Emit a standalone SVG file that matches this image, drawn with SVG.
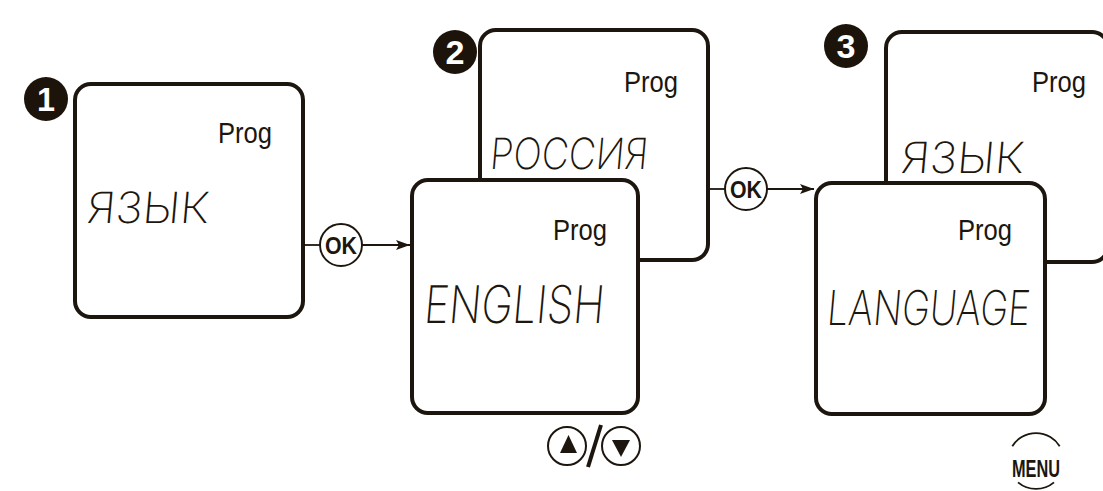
<svg xmlns="http://www.w3.org/2000/svg" width="1103" height="491" viewBox="0 0 1103 491">
<style>
.box{fill:#ffffff;stroke:#1c160e;stroke-width:4}
.prog{font-family:"Liberation Sans",Arial,sans-serif;font-size:29px;fill:#1c160e}
.seg{font-family:Inter,"DejaVu Sans",sans-serif;font-weight:200;fill:#1c160e}
.num{fill:#1c130a}
.numt{font-family:"Liberation Sans",Arial,sans-serif;font-weight:bold;font-size:34px;fill:#ffffff;text-anchor:middle}
.btn{fill:#ffffff;stroke:#1c160e;stroke-width:2}
.btnt{font-family:"Liberation Sans",Arial,sans-serif;font-weight:bold;font-size:24px;fill:#1c160e;text-anchor:middle}
.conn{stroke:#1c160e;stroke-width:1.8;fill:none}
</style>
<defs>
<marker id="arr" viewBox="0 0 14 10" refX="14" refY="5" markerWidth="14" markerHeight="10" markerUnits="userSpaceOnUse" orient="auto">
<path d="M0,0 L14,5 L0,10 L3,5 Z" fill="#1c160e"/>
</marker>
</defs>
<rect width="1103" height="491" fill="#ffffff"/>

<g id="step1">
<circle class="num" cx="46" cy="99" r="22"/>
<text class="numt" x="46" y="111" textLength="18" lengthAdjust="spacingAndGlyphs">1</text>
<rect class="box" x="75" y="84" width="228" height="233" rx="16"/>
<text class="prog" x="218" y="143" textLength="54" lengthAdjust="spacingAndGlyphs">Prog</text>
<text class="seg" font-size="43" transform="translate(86,223) skewX(-5)" textLength="122" lengthAdjust="spacingAndGlyphs">ЯЗЫК</text>
</g>

<g id="step2">
<circle class="num" cx="455" cy="52" r="22"/>
<text class="numt" x="455" y="64" textLength="19" lengthAdjust="spacingAndGlyphs">2</text>
<rect class="box" x="480" y="30" width="228" height="230" rx="16"/>
<text class="prog" x="624" y="92" textLength="54" lengthAdjust="spacingAndGlyphs">Prog</text>
<text class="seg" font-size="43" transform="translate(489,169) skewX(-5)" textLength="158" lengthAdjust="spacingAndGlyphs">РОССИЯ</text>
<rect class="box" x="412" y="180" width="226" height="233" rx="16"/>
<text class="prog" x="553" y="240" textLength="54" lengthAdjust="spacingAndGlyphs">Prog</text>
<text class="seg" font-size="52" transform="translate(423,323) skewX(-5)" textLength="180" lengthAdjust="spacingAndGlyphs">ENGLISH</text>
</g>

<g id="step3">
<circle class="num" cx="846" cy="46" r="22"/>
<text class="numt" x="846" y="58" textLength="19" lengthAdjust="spacingAndGlyphs">3</text>
<rect class="box" x="886" y="32" width="222" height="230" rx="16"/>
<text class="prog" x="1032" y="92" textLength="54" lengthAdjust="spacingAndGlyphs">Prog</text>
<text class="seg" font-size="43" transform="translate(900,173) skewX(-5)" textLength="123" lengthAdjust="spacingAndGlyphs">ЯЗЫК</text>
<rect class="box" x="816" y="183" width="229" height="231" rx="16"/>
<text class="prog" x="958" y="240" textLength="54" lengthAdjust="spacingAndGlyphs">Prog</text>
<text class="seg" font-size="48" transform="translate(826,325) skewX(-5)" textLength="203" lengthAdjust="spacingAndGlyphs">LANGUAGE</text>
</g>

<g id="connectors">
<line class="conn" x1="303" y1="245" x2="320" y2="245"/>
<line class="conn" x1="362" y1="245" x2="410" y2="245" marker-end="url(#arr)"/>
<line class="conn" x1="708" y1="189" x2="725" y2="189"/>
<line class="conn" x1="767" y1="189" x2="814" y2="189" marker-end="url(#arr)"/>
</g>

<g id="ok1">
<circle class="btn" cx="341" cy="245" r="21"/>
<text class="btnt" x="341" y="254" textLength="32" lengthAdjust="spacingAndGlyphs">OK</text>
</g>
<g id="ok2">
<circle class="btn" cx="746" cy="189" r="21"/>
<text class="btnt" x="746" y="198" textLength="32" lengthAdjust="spacingAndGlyphs">OK</text>
</g>

<g id="updown">
<circle class="btn" cx="567" cy="446" r="19"/>
<path d="M568.5,435 L577,453 L560,453 Z" fill="#1c160e"/>
<line x1="588" y1="467" x2="601" y2="425" stroke="#1c160e" stroke-width="4"/>
<circle class="btn" cx="621" cy="446" r="19"/>
<path d="M612,440 L630,440 L621,457 Z" fill="#1c160e"/>
</g>

<g id="menu">
<path class="conn" d="M1012.3,446.2 A28,28 0 0 1 1059.7,446.2"/>
<path class="conn" d="M1018,482.4 A28,28 0 0 0 1054,482.4"/>
<text class="btnt" x="1036" y="477" font-size="23" textLength="48" lengthAdjust="spacingAndGlyphs">MENU</text>
</g>
</svg>
